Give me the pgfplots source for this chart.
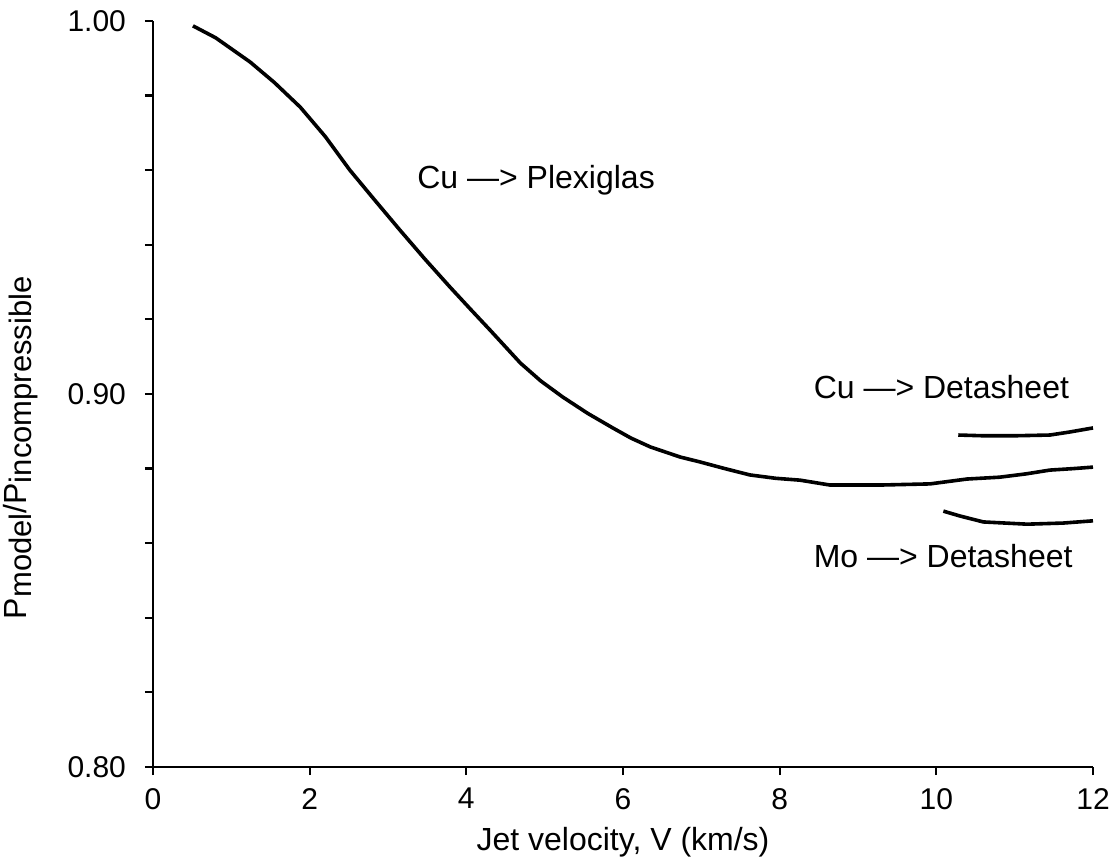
\documentclass[border=0pt]{standalone}
\usepackage{pgfplots}
\pgfplotsset{compat=1.18}
\usepackage{fontspec}
\setmainfont{Liberation Sans}
\newcommand{\sub}[1]{\raisebox{-2.5pt}{\fontsize{15.5}{17}\selectfont #1}}
\begin{document}
\begin{tikzpicture}
\path[use as bounding box] (-76.5pt,-45pt) rectangle (480.5pt,383.5pt);
\begin{axis}[
  at={(0,0)}, anchor=south west,
  scale only axis, width=470pt, height=373pt,
  xmin=0, xmax=12, ymin=0.80, ymax=1.00,
  axis lines=left, axis line style={-, line width=1.4pt},
  xtick={0,2,4,6,8,10,12},
  ytick={0.80,0.82,0.84,0.86,0.88,0.90,0.92,0.94,0.96,0.98,1.00},
  yticklabels={0.80,,,,,0.90,,,,,1.00},
  tick align=outside, major tick length=4pt,
  tick style={line width=1.1pt, black},
  /pgf/number format/assume math mode=true,
  xticklabel style={font=\fontsize{15}{17}\selectfont, yshift=-3pt},
  yticklabel style={font=\fontsize{15}{17}\selectfont, xshift=-6pt},
  xlabel={\fontsize{16}{18}\selectfont Jet velocity, V (km/s)},
  xlabel style={at={(axis description cs:0.5,0)}, anchor=base, inner sep=0pt, yshift=-41.5pt},
  ylabel={\fontsize{16}{18}\selectfont P\sub{model}/P\sub{incompressible}},
  ylabel style={at={(axis description cs:-0.141,0.428)}, anchor=center},
  clip=false,
]
\addplot[black, line width=1.8pt] coordinates {
(0.51,0.9987) (0.8,0.9955) (1.24,0.9890) (1.55,0.9835) (1.88,0.9769) (2.2,0.9690) (2.51,0.9601)
(2.83,0.9520) (3.15,0.9440) (3.47,0.9362) (3.79,0.9287) (4.05,0.9228) (4.30,0.9172) (4.69,0.9083)
(4.95,0.9035) (5.23,0.8992) (5.55,0.8948) (5.87,0.8909) (6.10,0.8882) (6.35,0.8858) (6.73,0.8831) (6.98,0.8818)
(7.3,0.8800) (7.62,0.8783) (7.95,0.8774) (8.26,0.8769) (8.64,0.8756) (9.3,0.8756) (9.92,0.8759)
(10.39,0.8772) (10.81,0.8777) (11.15,0.8786) (11.45,0.8796) (11.75,0.8800) (12.0,0.8804)
};
\addplot[black, line width=1.8pt] coordinates {
(10.28,0.8890) (10.6,0.8888) (11.0,0.8888) (11.45,0.8890) (11.7,0.8898) (12.0,0.8909)
};
\addplot[black, line width=1.8pt] coordinates {
(10.09,0.8686) (10.30,0.8673) (10.6,0.8657) (11.16,0.8651) (11.62,0.8654) (12.0,0.8660)
};
\node[anchor=base west, inner sep=0pt, font=\fontsize{16}{18}\selectfont] at (axis cs:3.37,0.9552) {Cu —> Plexiglas};
\node[anchor=base west, inner sep=0pt, font=\fontsize{16}{18}\selectfont] at (axis cs:8.43,0.8989) {Cu —> Detasheet};
\node[anchor=base west, inner sep=0pt, font=\fontsize{16}{18}\selectfont] at (axis cs:8.43,0.8534) {Mo —> Detasheet};
\end{axis}
\end{tikzpicture}
\end{document}
